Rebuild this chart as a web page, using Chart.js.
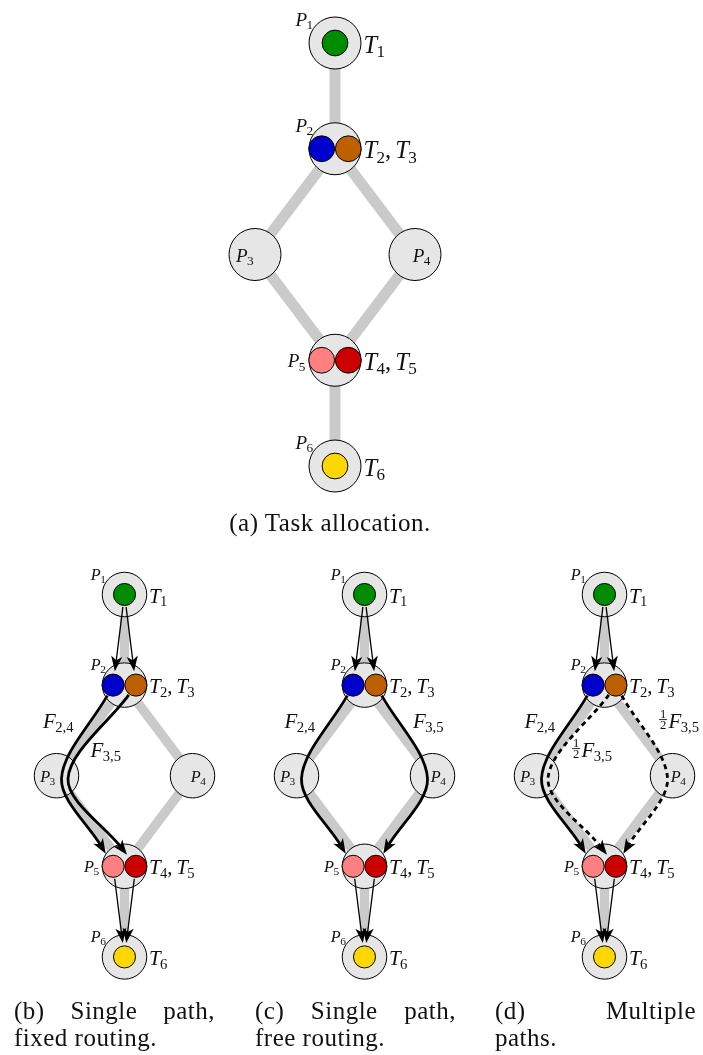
<!DOCTYPE html>
<html>
<head>
<meta charset="utf-8">
<script src="https://cdn.jsdelivr.net/npm/chart.js@4.4.1/dist/chart.umd.min.js"></script>
<style>
html,body{margin:0;padding:0;background:#fff;}
#wrap{position:relative;width:703px;height:1055px;overflow:hidden;background:#fff;}
canvas.layer{position:absolute;left:0;top:0;}
.cap{position:absolute;font-family:"Liberation Serif","Times New Roman",serif;font-size:25px;line-height:27px;letter-spacing:0.5px;color:#111;white-space:nowrap;}
.just{text-align:justify;text-align-last:justify;white-space:normal;}
</style>
</head>
<body>
<div id="wrap">
  <canvas id="ca" class="layer" width="703" height="1055"></canvas>
  <canvas id="cb" class="layer" width="703" height="1055"></canvas>
  <canvas id="cc" class="layer" width="703" height="1055"></canvas>
  <canvas id="cd" class="layer" width="703" height="1055"></canvas>
</div>
<script>
// ---------------- data ----------------
const processors = ['P1','P2','P3','P4','P5','P6'];
const procIndex  = ['1','2','3','4','5','6'];
const procCol    = [0, 0, -1, 1, 0, 0];
const procRow    = [0, 1, 2, 2, 3, 4];
const links = [['P1','P2'],['P2','P3'],['P2','P4'],['P3','P5'],['P4','P5'],['P5','P6']];
const tasks     = ['T1','T2','T3','T4','T5','T6'];
const taskIndex = ['1','2','3','4','5','6'];
const taskHost  = ['P1','P2','P2','P5','P5','P6'];
const taskSlot  = [0, -1, 1, -1, 1, 0];
const transfers = [['T1','T2'],['T1','T3'],['T4','T6'],['T5','T6']];
const flowsB = [
  {coef:'', sub:'2,4', from:'T2', via:'P3', to:'T4', lane:0, dashed:false},
  {coef:'', sub:'3,5', from:'T3', via:'P3', to:'T5', lane:1, dashed:false}
];
const flowsC = [
  {coef:'', sub:'2,4', from:'T2', via:'P3', to:'T4', lane:0, dashed:false},
  {coef:'', sub:'3,5', from:'T3', via:'P4', to:'T5', lane:0, dashed:false}
];
const flowsD = [
  {coef:'',    sub:'2,4', from:'T2', via:'P3', to:'T4', lane:0, dashed:false},
  {coef:'1/2', sub:'3,5', from:'T3', via:'P3', to:'T5', lane:1, dashed:true},
  {coef:'1/2', sub:'3,5', from:'T3', via:'P4', to:'T5', lane:0, dashed:true}
];
const captionA = '(a) Task allocation.';
const captionsBottom = [
  ['(b) Single path,', 'fixed routing.'],
  ['(c) Single path,', 'free routing.'],
  ['(d) Multiple', 'paths.']
];

// ---------------- styles / layout ----------------
const W = 703, H = 1055;
const taskColors = ['#008c00','#0000cc','#bf6000','#ff8080','#cc0000','#ffd700'];
const edgeColor = '#cacaca', nodeFill = '#e6e6e6';
const FONT = '"Liberation Serif","Times New Roman",serif';
const pLabelPlace = {P1:'nw', P2:'nw', P3:'inW', P4:'inE', P5:'w', P6:'nw'};
const panels = {
  a: {canvas:'ca', cx:335,   cy:43,    ux:80, uy:105.75, s:1,     flows:[],     transfers:false, flowLabels:[]},
  b: {canvas:'cb', cx:124.5, cy:594.5, ux:68, uy:90.6,   s:0.856, flows:flowsB, transfers:true,
      flowLabels:[{dx:-51, dy:133.5, align:'right'}, {dx:-34, dy:162.5, align:'left'}]},
  c: {canvas:'cc', cx:364.5, cy:594.5, ux:68, uy:90.6,   s:0.856, flows:flowsC, transfers:true,
      flowLabels:[{dx:-49.5, dy:133.5, align:'right'}, {dx:48.5, dy:133.5, align:'left'}]},
  d: {canvas:'cd', cx:604.5, cy:594.5, ux:68, uy:90.6,   s:0.856, flows:flowsD, transfers:true,
      flowLabels:[{dx:-49.5, dy:133.5, align:'right'}, {dx:-33, dy:162.5, align:'left'}, {dx:54, dy:133.5, align:'left'}]}
};

// ---------------- text helpers ----------------
function runFont(r, size) {
  const sz = r.sub ? size * 0.7 : size;
  return (r.it ? 'italic ' : '') + sz.toFixed(2) + 'px ' + FONT;
}
function runWidth(ctx, r, size) {
  if (r.sp) return r.sp * size;
  if (r.frac) { ctx.font = (size*0.6).toFixed(2) + 'px ' + FONT; return Math.max(ctx.measureText(r.frac[0]).width, ctx.measureText(r.frac[1]).width) + size*0.14; }
  ctx.font = runFont(r, size);
  return ctx.measureText(r.t).width + (r.sub ? -size*0.03 : 0);
}
function drawRuns(ctx, runs, x, y, size, align) {
  let total = 0;
  runs.forEach(r => total += runWidth(ctx, r, size));
  let cx = align === 'right' ? x - total : (align === 'center' ? x - total/2 : x);
  ctx.fillStyle = '#111';
  ctx.textAlign = 'left';
  ctx.textBaseline = 'alphabetic';
  runs.forEach(r => {
    const w = runWidth(ctx, r, size);
    if (r.frac) {
      const fs = size*0.6;
      ctx.font = fs.toFixed(2) + 'px ' + FONT;
      const bar = y - size*0.40;
      const mid = cx + w/2;
      ctx.textAlign = 'center';
      ctx.fillText(r.frac[0], mid, bar - size*0.07);
      ctx.fillText(r.frac[1], mid, bar + size*0.07 + fs*0.66);
      ctx.textAlign = 'left';
      ctx.fillRect(cx + size*0.03, bar - 0.45, w - size*0.06, 0.9);
    } else if (!r.sp) {
      ctx.font = runFont(r, size);
      ctx.fillText(r.t, cx + (r.sub ? -size*0.03 : 0), y + (r.sub ? size*0.18 : 0));
    }
    cx += w;
  });
}
function drawHead(ctx, tip, back, L, hw) {
  const dx = tip.x - back.x, dy = tip.y - back.y, len = Math.hypot(dx, dy);
  const ux = dx/len, uy = dy/len, nx = -uy, ny = ux;
  ctx.fillStyle = '#000';
  ctx.beginPath();
  ctx.moveTo(tip.x, tip.y);
  ctx.lineTo(tip.x - L*ux + hw*nx, tip.y - L*uy + hw*ny);
  ctx.lineTo(tip.x - 0.74*L*ux, tip.y - 0.74*L*uy);
  ctx.lineTo(tip.x - L*ux - hw*nx, tip.y - L*uy - hw*ny);
  ctx.closePath();
  ctx.fill();
}

// ---------------- panel builder ----------------
function buildPanel(key) {
  const Lp = panels[key], s = Lp.s;
  const R = 26*s, rT = 12.9*s, slotPx = 13.3*s;
  const headLen = 15, headHW = 5.6;
  const toPx = u => ({x: Lp.cx + u.x*Lp.ux, y: Lp.cy + u.y*Lp.uy});
  const toU  = p => ({x: (p.x - Lp.cx)/Lp.ux, y: (p.y - Lp.cy)/Lp.uy});
  const procU = n => { const i = processors.indexOf(n); return {x: procCol[i], y: procRow[i]}; };
  const taskU = n => { const i = tasks.indexOf(n); const h = procU(taskHost[i]); return {x: h.x + taskSlot[i]*slotPx/Lp.ux, y: h.y}; };
  const norm = (a, b) => { const dx = b.x-a.x, dy = b.y-a.y, l = Math.hypot(dx,dy); return {x:dx/l, y:dy/l}; };
  const add = (p, d, k) => ({x: p.x + d.x*k, y: p.y + d.y*k});

  const datasets = [];
  links.forEach(([a,b]) => datasets.push({
    data:[procU(a), procU(b)], showLine:true, borderColor:edgeColor, borderWidth:11*s,
    pointRadius:0, pointHoverRadius:0, order:5
  }));
  datasets.push({
    data: processors.map(procU), pointRadius:R, pointHoverRadius:R,
    pointBackgroundColor:nodeFill, pointBorderColor:'#000', pointBorderWidth:1, order:4
  });
  datasets.push({
    data: tasks.map(taskU), pointRadius:rT, pointHoverRadius:rT,
    pointBackgroundColor:taskColors, pointBorderColor:'#000', pointBorderWidth:1, order:3
  });

  const heads = [];
  if (Lp.transfers) transfers.forEach(([a,b]) => {
    const A = toPx(taskU(a)), B = toPx(taskU(b));
    const d = norm(A, B);
    const start = add(A, d, rT + 1.5);
    const tip = add(B, d, -(rT + 3));
    const end = add(tip, d, -headLen*0.6);
    datasets.push({data:[toU(start), toU(end)], showLine:true, borderColor:'#000', borderWidth:1.3,
      pointRadius:0, pointHoverRadius:0, order:2});
    heads.push({tip: toU(tip), back: toU(start)});
  });
  Lp.flows.forEach(f => {
    const A = toPx(taskU(f.from)), B = toPx(taskU(f.to));
    const vi = processors.indexOf(f.via);
    const inward = procCol[vi] < 0 ? 1 : -1;
    const Vc = toPx(procU(f.via));
    const V = {x: Vc.x + inward*(5 + 6.5*f.lane), y: Vc.y + 3};
    const start = add(A, norm(A, V), rT + 1);
    const tip = add(B, norm(B, V), rT + 3.5);
    const d = norm(V, tip);
    const end = add(tip, d, -headLen*0.6);
    datasets.push({data:[toU(start), toU(V), toU(end)], showLine:true, tension:0.32,
      borderColor:'#000', borderWidth:2.8, borderDash: f.dashed ? [5,4] : [],
      pointRadius:0, pointHoverRadius:0, order:1});
    heads.push({tip: toU(tip), back: toU(V)});
  });

  const decor = {
    id:'decor_' + key,
    afterDatasetsDraw(chart) {
      const ctx = chart.ctx, xs = chart.scales.x, ys = chart.scales.y;
      const P = u => ({x: xs.getPixelForValue(u.x), y: ys.getPixelForValue(u.y)});
      ctx.save();
      heads.forEach(h => drawHead(ctx, P(h.tip), P(h.back), headLen, headHW));
      const Rout = R + 0.5;
      const pSize = 19*s, tSize = 24.5*s;
      processors.forEach((n, i) => {
        const c = P(procU(n));
        const runs = [{t:'P', it:true}, {t:procIndex[i], sub:true}];
        const place = pLabelPlace[n];
        if (place === 'nw') drawRuns(ctx, runs, c.x - 0.707*Rout - 3*s, c.y - 0.707*Rout + 1.5*s, pSize, 'right');
        else if (place === 'w') drawRuns(ctx, runs, c.x - Rout - 3*s, c.y + 7*s, pSize, 'right');
        else if (place === 'inW') drawRuns(ctx, runs, c.x - Rout + 7.5*s, c.y + 7.5*s, pSize, 'left');
        else drawRuns(ctx, runs, c.x + Rout - 11*s, c.y + 7.5*s, pSize, 'right');
      });
      processors.forEach(n => {
        const idx = [];
        taskHost.forEach((h, j) => { if (h === n) idx.push(j); });
        if (!idx.length) return;
        const c = P(procU(n));
        const runs = [];
        idx.forEach((j, k) => {
          if (k > 0) { runs.push({t:','}); runs.push({sp:0.17}); }
          runs.push({t:'T', it:true}); runs.push({t:taskIndex[j], sub:true});
        });
        drawRuns(ctx, runs, c.x + Rout + 2*s, c.y + 9.5*s, tSize, 'left');
      });
      const o = P({x:0, y:0});
      Lp.flows.forEach((f, k) => {
        const pl = Lp.flowLabels[k];
        const runs = [];
        if (f.coef) { const pr = f.coef.split('/'); runs.push({frac:pr}); runs.push({sp:0.04}); }
        runs.push({t:'F', it:true}); runs.push({t:f.sub, sub:true});
        drawRuns(ctx, runs, o.x + pl.dx, o.y + pl.dy, tSize, pl.align);
      });
      ctx.restore();
    }
  };

  new Chart(document.getElementById(Lp.canvas), {
    type:'scatter',
    data:{datasets},
    options:{
      responsive:false, animation:false, events:[],
      layout:{padding:0, autoPadding:false},
      plugins:{legend:{display:false}, tooltip:{enabled:false}, title:{display:false}},
      scales:{
        x:{type:'linear', display:false, min:-Lp.cx/Lp.ux, max:(W - Lp.cx)/Lp.ux},
        y:{type:'linear', display:false, reverse:true, min:-Lp.cy/Lp.uy, max:(H - Lp.cy)/Lp.uy}
      }
    },
    plugins:[decor]
  });
}
['a','b','c','d'].forEach(buildPanel);

// ---------------- captions ----------------
const wrap = document.getElementById('wrap');
function addCap(text, style, cls) {
  const d = document.createElement('div');
  d.className = 'cap' + (cls ? ' ' + cls : '');
  d.textContent = text;
  Object.assign(d.style, style);
  wrap.appendChild(d);
}
addCap(captionA, {left:'0px', width:'660px', top:'509px', textAlign:'center'});
const capLeft = [14, 255, 495];
captionsBottom.forEach((lines, i) => {
  addCap(lines[0], {left:capLeft[i] + 'px', width:'201px', top:'997px'}, 'just');
  addCap(lines[1], {left:capLeft[i] + 'px', top:'1024px'});
});
</script>
</body>
</html>
